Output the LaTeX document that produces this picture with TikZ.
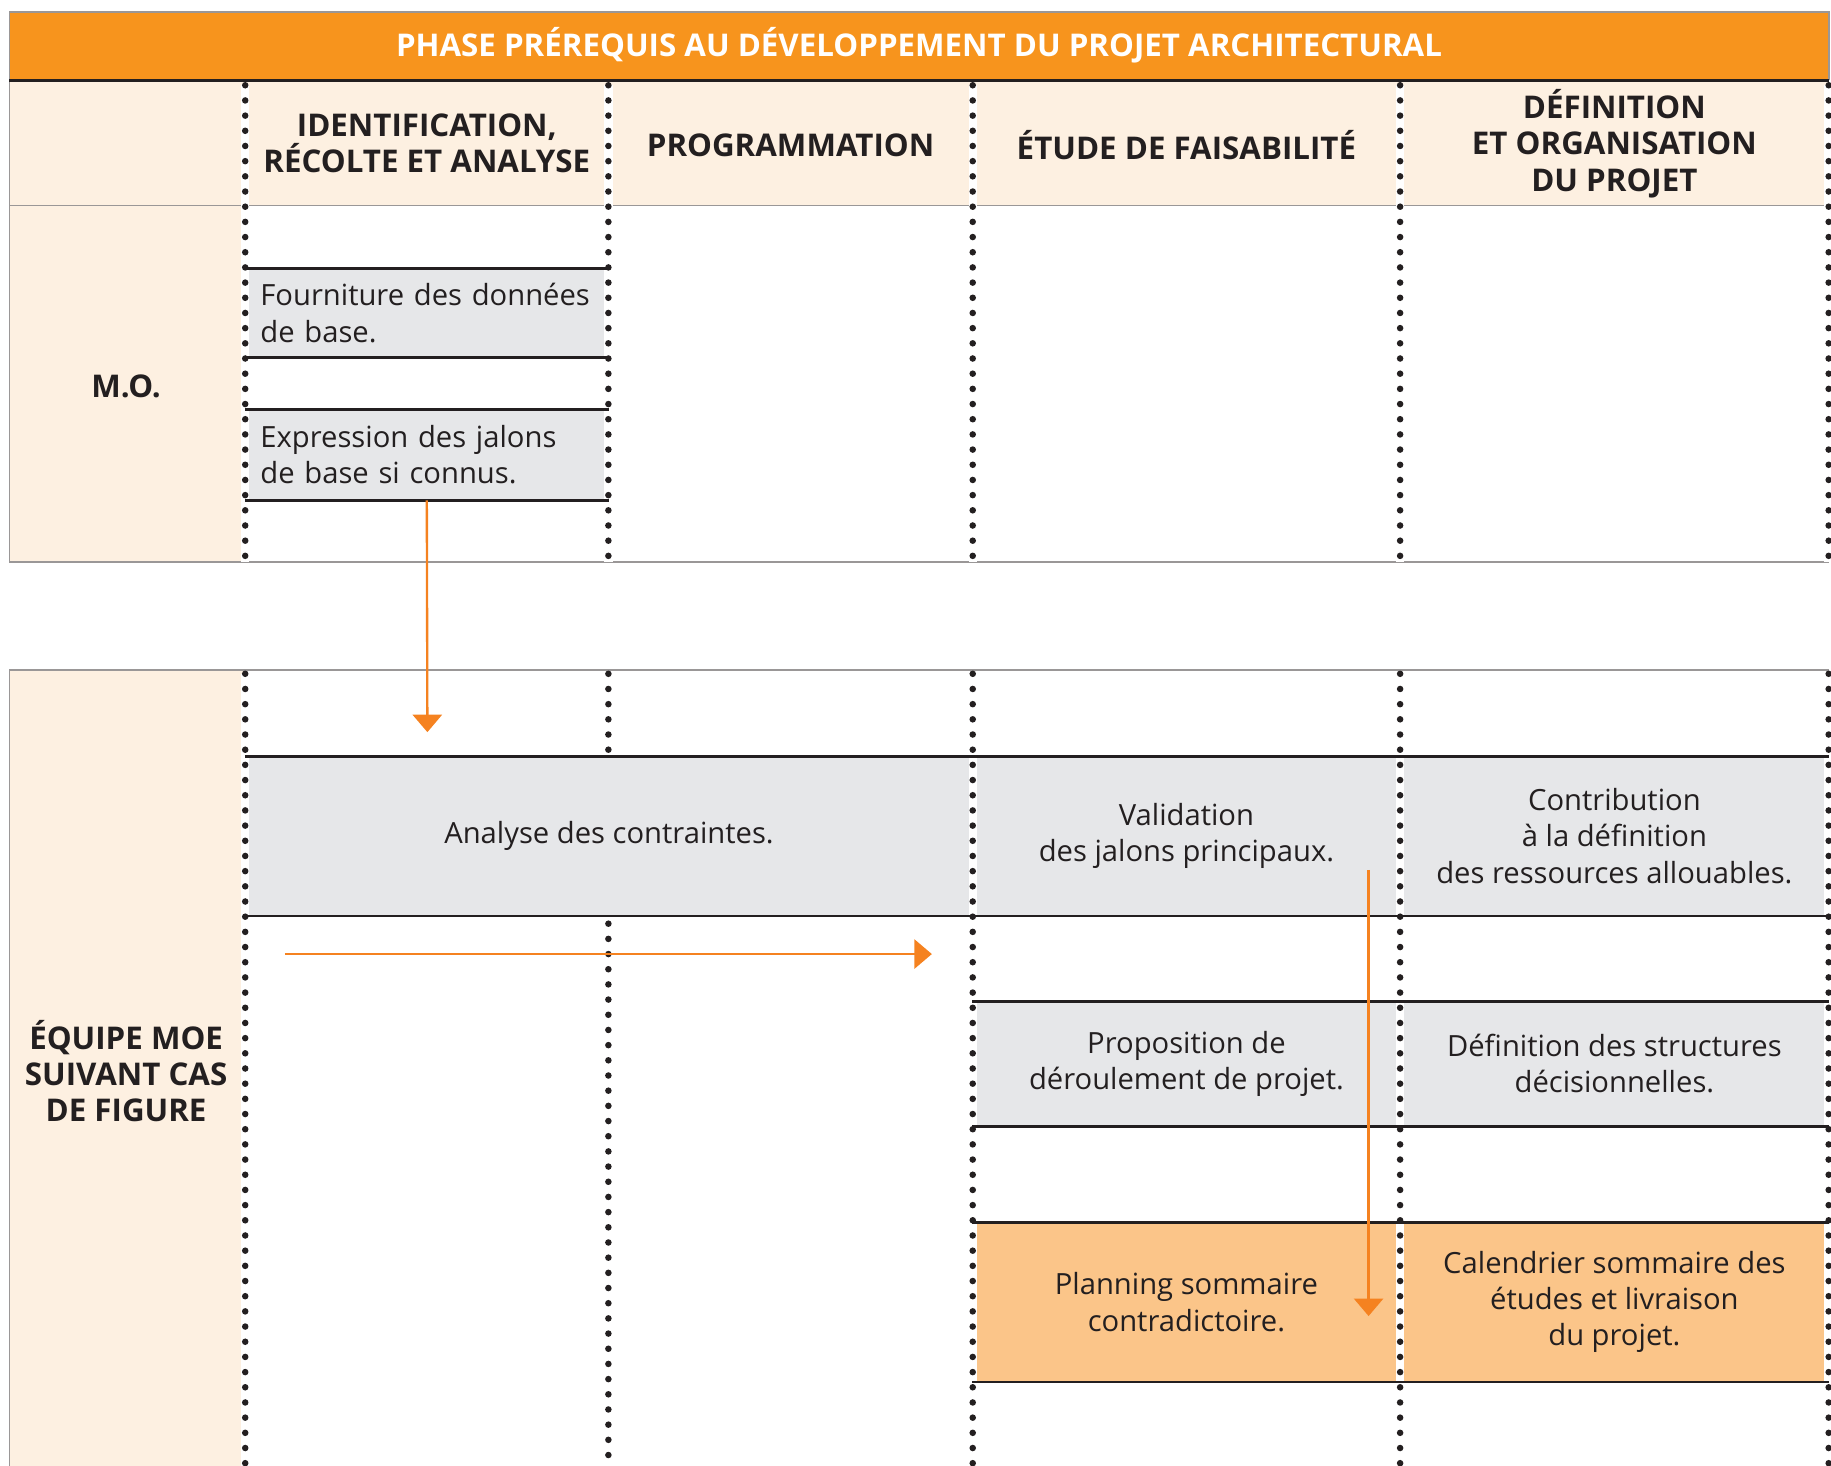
\documentclass[tikz,border=0pt]{standalone}
\usepackage{fontspec}
\setmainfont{Open Sans}
\usetikzlibrary{arrows.meta}
\definecolor{phaseorange}{HTML}{F7941D}
\definecolor{flowline}{HTML}{F58220}
\definecolor{cream}{HTML}{FDF0E1}
\definecolor{boxgray}{HTML}{E6E7E9}
\definecolor{boxorange}{HTML}{FBC589}
\definecolor{ink}{HTML}{231F20}
\definecolor{frame}{HTML}{9A9797}
\begin{document}
\begin{tikzpicture}[x=0.5pt,y=-0.5pt,
    txt/.style={font=\fontsize{12.5}{15.5}\selectfont, text=ink, align=center},
    head/.style={font=\fontsize{13.4}{15.5}\selectfont\bfseries, text=ink, align=center},
    cell/.style={txt, fill=boxgray, inner sep=0pt},
    dotline/.style={draw=ink, line width=2.8pt, dash pattern=on 0pt off 6.5pt, line cap=round,
        preaction={draw=white, line width=3.6pt, dash pattern=, line cap=butt}},
    rule/.style={draw=ink, line width=1.2pt},
    border/.style={draw=frame, line width=0.7pt},
    flow/.style={draw=flowline, line width=1pt, -{Triangle[width=12.5pt,length=7.5pt]}}]
    \useasboundingbox (0,0) rectangle (1568,1255);

    \fill[cream] (8,70) rectangle (1566,176);
    \fill[cream] (8,176) rectangle (210,481);
    \fill[cream] (8,574) rectangle (210,1255);

    \node[fill=phaseorange, border, minimum width=779pt, minimum height=29pt, inner sep=0pt,
        font=\fontsize{13.4}{15.5}\selectfont\bfseries, text=white] (title) at (787,39)
        {PHASE PRÉREQUIS AU DÉVELOPPEMENT DU PROJET ARCHITECTURAL};

    \node[cell, align=left, text width=142.5pt, inner xsep=6.5pt, minimum height=38pt] (mo1) at (365.5,268)
        {Fourniture des données\\de base.};
    \node[cell, align=left, text width=142.5pt, inner xsep=6.5pt, minimum height=38.5pt] (mo2) at (365.5,389.5)
        {Expression des jalons\\de base si connus.};

    \node[cell, minimum width=311.5pt, minimum height=68pt] (ana) at (521.5,716) {Analyse des contraintes.};
    \node[cell, minimum width=183pt, minimum height=68pt] (val) at (1016,716) {Validation\\des jalons principaux.};
    \node[cell, minimum width=183.5pt, minimum height=68pt] (con) at (1382.5,716)
        {Contribution\\à la définition\\des ressources allouables.};
    \node[cell, minimum width=183pt, minimum height=53pt] (prop) at (1016,911) {Proposition de\\déroulement de projet.};
    \node[cell, minimum width=183.5pt, minimum height=53pt] (struc) at (1382.5,911)
        {Définition des structures\\décisionnelles.};
    \node[cell, fill=boxorange, minimum width=183pt, minimum height=68pt] (plan) at (1016,1115)
        {Planning sommaire\\contradictoire.};
    \node[cell, fill=boxorange, minimum width=183.5pt, minimum height=68pt] (cal) at (1382.5,1115)
        {Calendrier sommaire des\\études et livraison\\du projet.};

    \draw[border] (8,70) -- (8,481) -- (1566,481);
    \draw[border] (8,176) -- (1566,176);
    \draw[border] (8,1255) -- (8,574) -- (1566,574);

    \foreach \x in {210,833,1199,1566} {
        \draw[dotline] (\x,73) -- (\x,481);
        \draw[dotline] (\x,577) -- (\x,1258);
    }
    \draw[dotline] (521,73) -- (521,481);
    \draw[dotline] (521,577) -- (521,642);
    \draw[dotline] (521,791) -- (521,1258);

    \draw[draw=ink, line width=1.2pt] (8,69) -- (1566,69);
    \draw[rule] (mo1.north west) -- (mo1.north east);
    \draw[rule] (mo1.south west) -- (mo1.south east);
    \draw[rule] (mo2.north west) -- (mo2.north east);
    \draw[rule] (mo2.south west) -- (mo2.south east);
    \draw[rule] (ana.north west) -- (con.north east);
    \draw[rule] (ana.south west) -- (con.south east);
    \draw[rule] (prop.north west) -- (struc.north east);
    \draw[rule] (prop.south west) -- (struc.south east);
    \draw[rule] (plan.north west) -- (cal.north east);
    \draw[rule] (plan.south west) -- (cal.south east);

    \node[head] (hd1) at (365.5,123) {IDENTIFICATION,\\RÉCOLTE ET ANALYSE};
    \node[head] (hd2) at (677,124) {PROGRAMMATION};
    \node[head] (hd3) at (1016,124) {ÉTUDE DE FAISABILITÉ};
    \node[head] (hd4) at (1382.5,123) {DÉFINITION\\ET ORGANISATION\\DU PROJET};
    \node[head] (mo) at (108,331) {M.O.};
    \node[head] (moe) at (108,917) {ÉQUIPE MOE\\SUIVANT CAS\\DE FIGURE};

    \coordinate (tipA) at (366,627);
    \coordinate (hA) at (244,817);
    \coordinate (hB) at (798,817);
    \coordinate (vA) at (1172,745);
    \coordinate (vB) at (1172,1127);
    \draw[flow] (mo2.south) -- (tipA);
    \draw[flow] (hA) -- (hB);
    \draw[flow] (vA) -- (vB);
\end{tikzpicture}
\end{document}
